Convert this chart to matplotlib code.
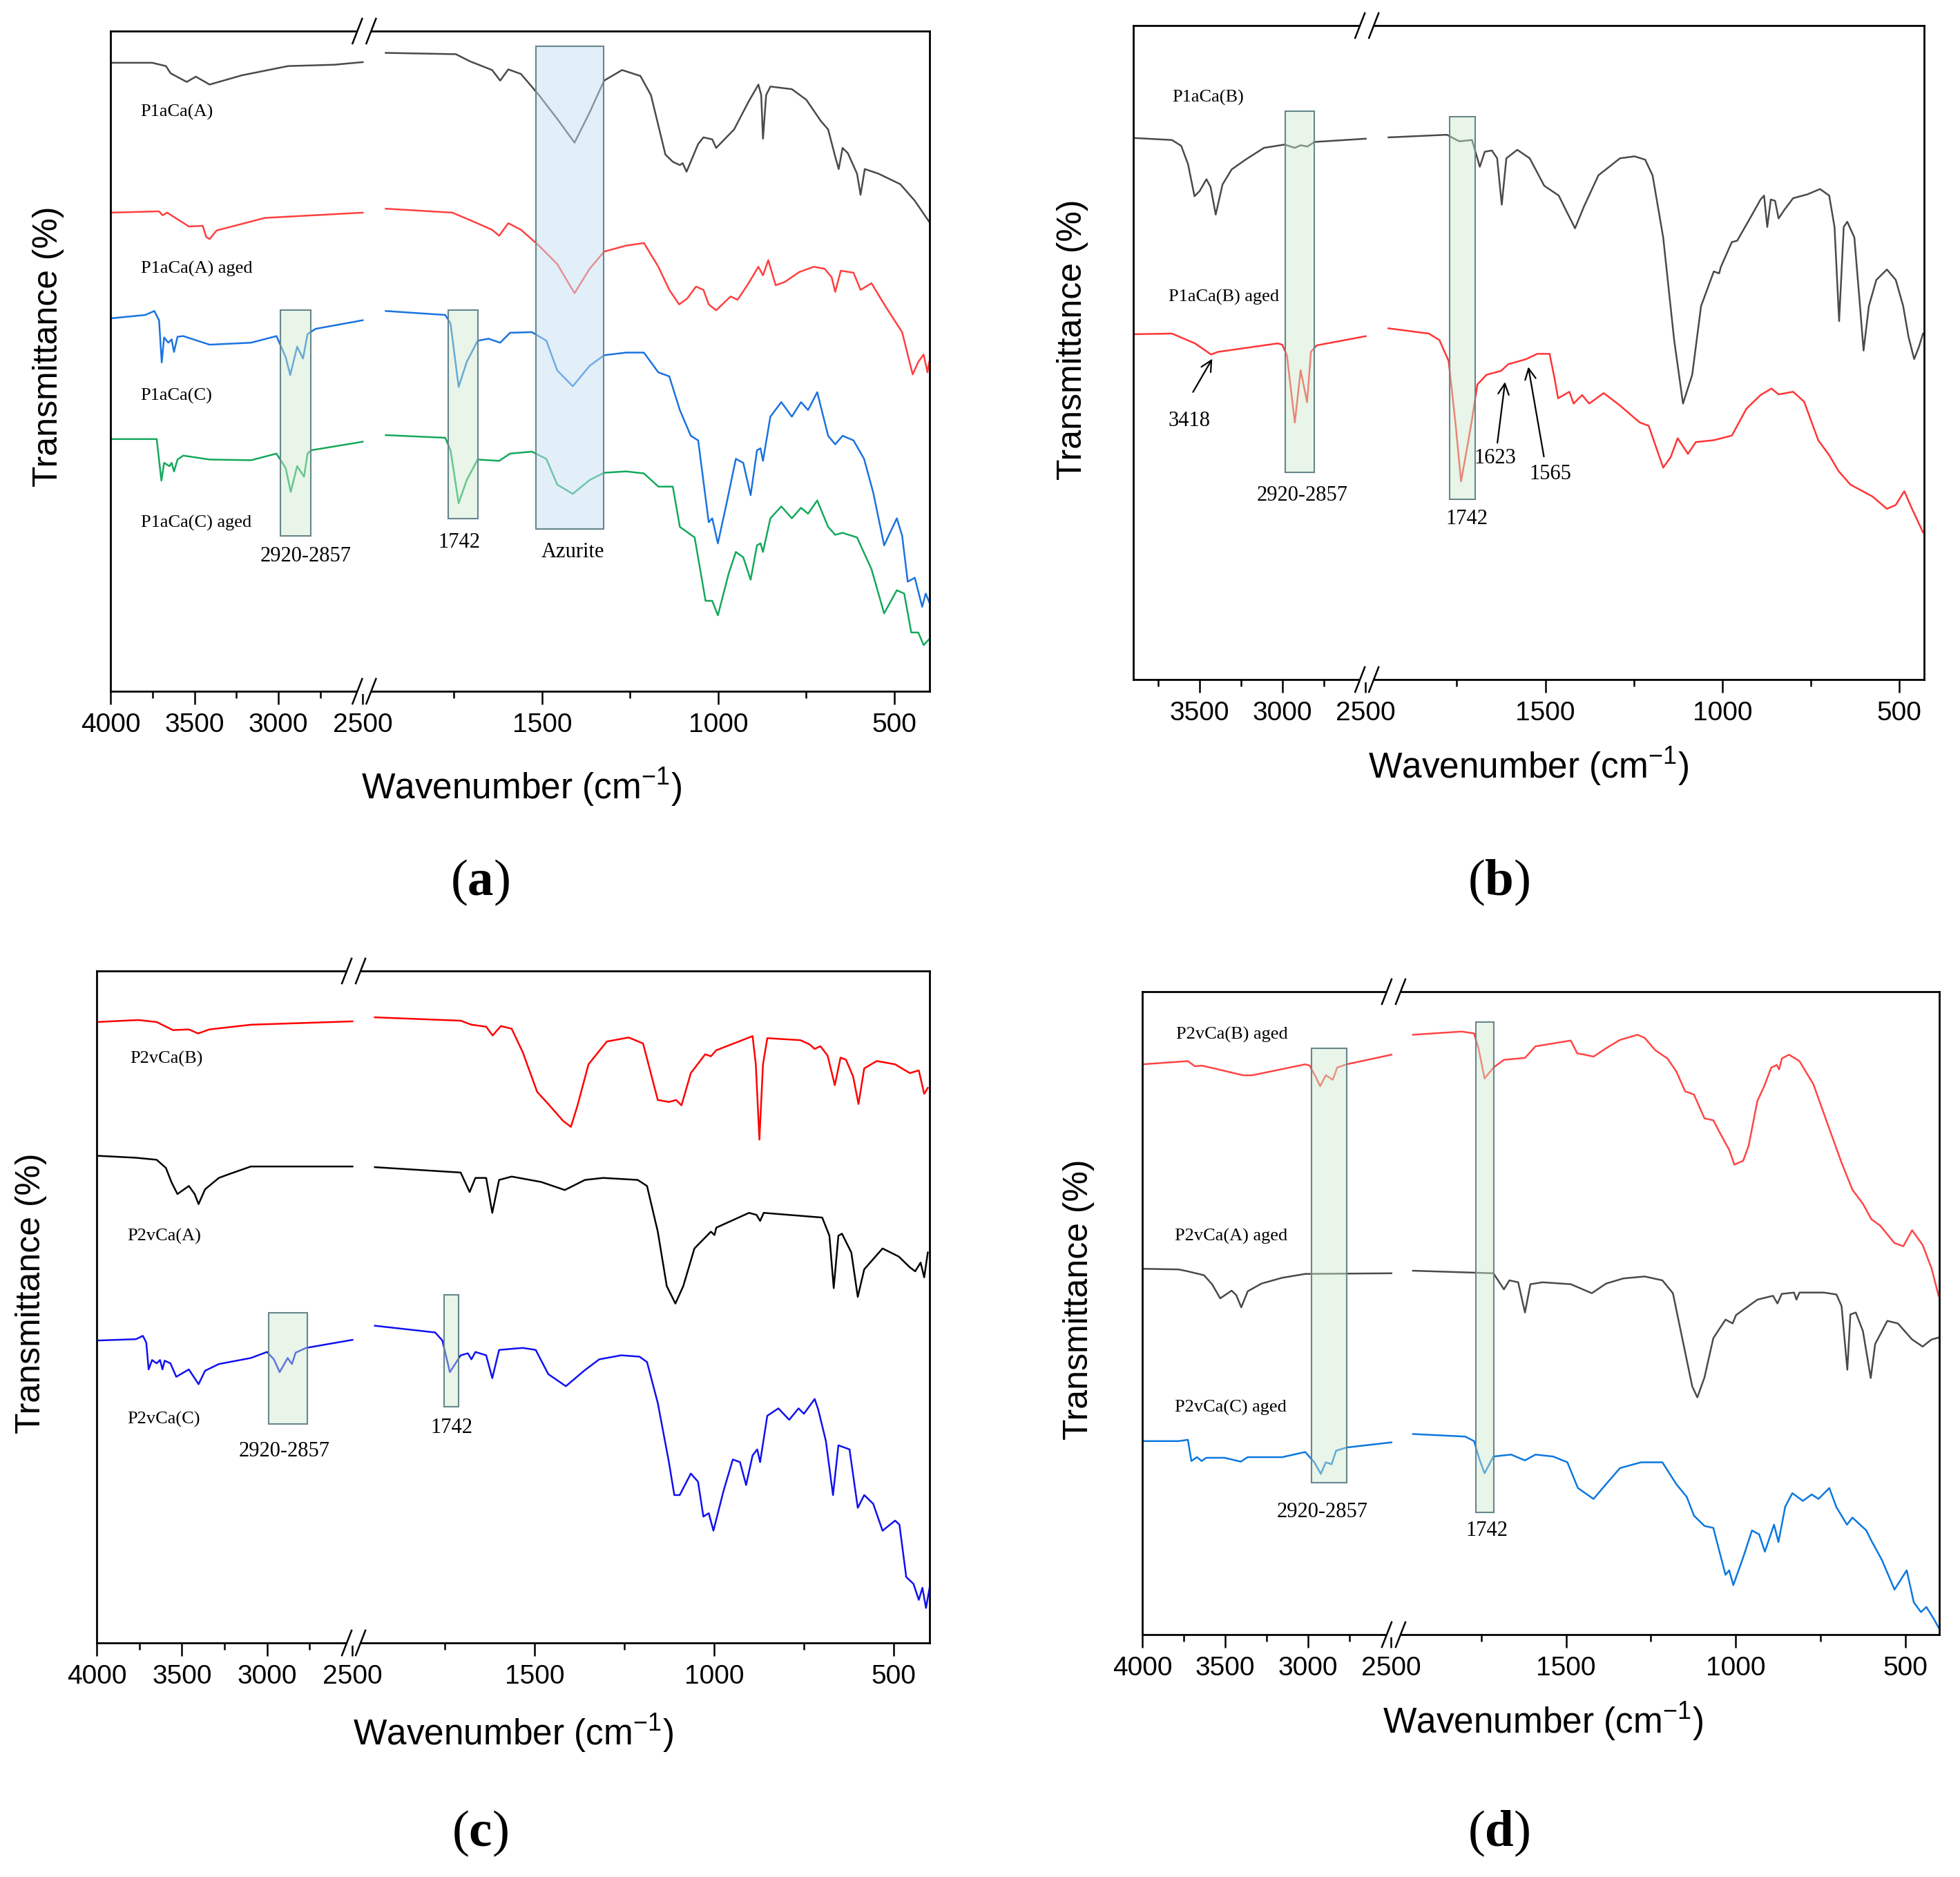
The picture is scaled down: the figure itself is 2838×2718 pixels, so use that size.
import numpy as np
import matplotlib
matplotlib.use("Agg")
import matplotlib.pyplot as plt
from matplotlib.patches import Rectangle

plt.rcParams["font.family"] = "Liberation Sans"
plt.rcParams["mathtext.fontset"] = "custom"
plt.rcParams["mathtext.bf"] = "Liberation Serif:bold"
plt.rcParams["mathtext.default"] = "regular"

W, H = 2838, 2718

# ---------------- data: (wavenumber cm-1, transmittance a.u.) ----------------
# panel (a)
a_p1aca_a = [(3992, 95.2), (3752, 95.2), (3670, 94.7), (3642, 93.6), (3546, 92.3), (3492, 93.1), (3410, 91.9),
             (3218, 93.3), (2943, 94.7), (2670, 94.9), (2457, 95.3),
             (1944, 96.7), (1745, 96.5), (1704, 95.4), (1642, 94.1), (1619, 92.5), (1596, 94.2), (1560, 93.5),
             (1509, 90.3), (1457, 86.7), (1408, 83.1), (1365, 87.7), (1324, 92.5), (1273, 94.1), (1221, 93.2),
             (1191, 90.3), (1150, 81.3), (1129, 80.2), (1109, 79.7), (1101, 80.0), (1090, 78.7), (1057, 82.9),
             (1042, 83.9), (1017, 83.6), (1006, 82.3), (955, 85.1), (914, 89.3), (886, 91.9), (878, 90.3),
             (873, 83.7), (864, 90.3), (852, 91.6), (791, 91.2), (750, 89.6), (709, 86.4), (688, 85.1),
             (668, 81.0), (658, 79.1), (647, 82.3), (632, 81.5), (606, 78.4), (596, 75.2), (584, 79.1),
             (545, 78.4), (483, 76.8), (442, 74.3), (401, 71.1)]
a_p1aca_a_aged = [(3992, 72.5), (3711, 72.7), (3690, 72.1), (3663, 72.5), (3533, 70.4), (3451, 70.5), (3430, 68.8),
                  (3410, 68.5), (3368, 69.8), (3081, 71.7), (2457, 72.5),
                  (1944, 73.1), (1755, 72.5), (1693, 71.1), (1642, 69.9), (1622, 69.0), (1596, 70.9), (1560, 69.9),
                  (1509, 67.5), (1457, 64.7), (1408, 60.3), (1365, 64.0), (1324, 66.6), (1262, 67.5), (1211, 67.9),
                  (1170, 64.3), (1139, 60.8), (1111, 58.6), (1088, 59.5), (1063, 61.3), (1042, 60.8), (1027, 58.6),
                  (1006, 57.7), (965, 59.8), (945, 59.3), (914, 61.8), (886, 64.3), (873, 63.0), (858, 65.3),
                  (837, 61.5), (811, 62.0), (770, 63.5), (729, 64.3), (698, 64.0), (678, 62.7), (668, 60.5),
                  (652, 63.7), (616, 63.4), (596, 60.8), (565, 61.8), (524, 58.2), (478, 54.4), (448, 48.0),
                  (432, 49.9), (417, 51.0), (406, 48.3), (401, 49.9)]
a_p1aca_c = [(3992, 56.5), (3793, 57.0), (3739, 57.6), (3711, 56.2), (3695, 49.8), (3681, 53.6), (3656, 52.8),
             (3636, 53.3), (3622, 51.4), (3601, 53.7), (3567, 53.8), (3410, 52.5), (3163, 52.8), (3012, 53.8),
             (2957, 50.6), (2930, 47.9), (2889, 52.2), (2854, 50.4), (2827, 54.1), (2779, 54.9), (2457, 56.2),
             (1944, 57.6), (1775, 57.0), (1760, 55.7), (1737, 46.1), (1714, 49.9), (1683, 53.1), (1652, 53.4),
             (1619, 52.8), (1591, 54.3), (1529, 54.4), (1488, 53.1), (1457, 48.6), (1413, 46.2), (1365, 49.3),
             (1324, 50.9), (1262, 51.3), (1211, 51.3), (1170, 48.3), (1139, 47.7), (1109, 42.6), (1078, 38.7),
             (1057, 38.0), (1027, 25.6), (1017, 26.2), (1001, 22.4), (975, 28.8), (950, 35.2), (929, 34.6),
             (908, 29.7), (890, 36.5), (880, 36.8), (873, 34.9), (852, 41.6), (821, 43.8), (791, 41.6),
             (765, 43.8), (745, 42.6), (719, 45.3), (688, 38.7), (668, 37.4), (647, 38.7), (616, 38.0),
             (586, 35.2), (560, 30.1), (529, 22.1), (493, 26.2), (478, 23.6), (462, 16.6), (442, 17.2),
             (421, 12.8), (411, 14.8), (401, 13.5)]
a_p1aca_c_aged = [(3992, 38.2), (3725, 38.2), (3697, 31.9), (3681, 34.6), (3649, 34.1), (3636, 34.6), (3622, 33.3),
                  (3601, 35.1), (3567, 35.7), (3410, 35.1), (3163, 35.0), (3012, 36.0), (2957, 33.8), (2927, 30.2),
                  (2889, 34.1), (2848, 32.5), (2827, 36.0), (2807, 36.5), (2457, 37.8),
                  (1944, 38.8), (1775, 38.4), (1760, 36.5), (1737, 28.5), (1714, 32.0), (1683, 35.1), (1622, 34.9),
                  (1591, 36.0), (1529, 36.3), (1488, 35.2), (1457, 31.3), (1413, 29.9), (1365, 32.0), (1324, 33.1),
                  (1262, 33.3), (1211, 33.0), (1170, 31.0), (1129, 31.0), (1109, 24.9), (1067, 23.3), (1036, 13.7),
                  (1017, 13.7), (1001, 11.5), (970, 17.9), (950, 21.1), (929, 20.3), (908, 16.9), (890, 22.1),
                  (880, 22.4), (873, 21.1), (852, 26.2), (821, 28.0), (791, 26.2), (765, 27.8), (745, 26.9),
                  (719, 28.9), (688, 24.9), (668, 23.7), (647, 24.0), (606, 23.3), (565, 18.5), (529, 11.8),
                  (493, 15.3), (472, 14.8), (452, 8.9), (432, 8.9), (417, 7.0), (401, 7.9)]

# panel (b)
b_p1aca_b = [(3889, 82.8), (3667, 82.5), (3611, 81.6), (3570, 78.8), (3531, 73.9), (3500, 74.7), (3459, 76.5),
             (3434, 75.3), (3403, 71.1), (3362, 75.7), (3307, 78.0), (3223, 79.5), (3112, 81.3), (2988, 81.8),
             (2926, 81.3), (2891, 81.7), (2850, 81.5), (2808, 82.2), (2455, 82.7),
             (1943, 82.9), (1778, 83.3), (1743, 82.3), (1707, 82.5), (1685, 78.4), (1671, 80.7), (1651, 80.9),
             (1636, 79.7), (1623, 72.6), (1610, 79.7), (1579, 81.0), (1544, 79.7), (1503, 75.5), (1462, 74.0),
             (1442, 71.8), (1416, 69.0), (1391, 72.3), (1350, 77.1), (1289, 79.7), (1248, 80.0), (1218, 79.5),
             (1197, 77.1), (1167, 67.6), (1136, 51.9), (1111, 42.2), (1085, 46.6), (1060, 57.1), (1024, 62.4),
             (1009, 62.1), (1004, 63.1), (973, 66.9), (958, 67.1), (922, 70.5), (892, 73.4), (882, 74.0),
             (873, 69.2), (863, 73.4), (851, 73.2), (841, 70.5), (825, 71.8), (800, 73.6), (759, 74.2),
             (724, 75.0), (698, 74.0), (683, 69.2), (670, 54.8), (657, 69.2), (647, 70.0), (627, 67.6),
             (611, 57.1), (601, 50.3), (586, 57.1), (565, 61.1), (535, 62.7), (510, 61.1), (489, 57.1),
             (474, 52.4), (458, 49.0), (445, 50.8), (433, 52.9)]
b_p1aca_b_aged = [(3896, 52.8), (3667, 52.9), (3528, 51.4), (3431, 49.7), (3390, 50.1), (3029, 51.4), (3002, 51.2),
                  (2974, 49.6), (2926, 39.3), (2891, 47.3), (2852, 42.4), (2829, 50.1), (2794, 51.1), (2455, 52.5),
                  (1943, 53.7), (1829, 52.9), (1799, 51.9), (1773, 48.7), (1753, 38.8), (1738, 30.3), (1722, 35.1),
                  (1707, 39.8), (1692, 45.1), (1666, 46.6), (1625, 47.2), (1605, 48.2), (1554, 49.0), (1523, 49.8),
                  (1488, 49.8), (1474, 46.1), (1464, 43.0), (1432, 44.0), (1420, 42.2), (1396, 43.5), (1376, 42.2),
                  (1335, 43.8), (1289, 41.9), (1233, 39.3), (1208, 38.8), (1167, 32.4), (1146, 34.0), (1126, 36.9),
                  (1097, 34.5), (1075, 36.3), (1024, 36.6), (973, 37.3), (932, 41.4), (892, 43.5), (861, 44.5),
                  (841, 43.6), (800, 44.0), (769, 42.5), (729, 36.6), (698, 34.3), (672, 31.9), (638, 29.8),
                  (576, 28.0), (535, 26.1), (510, 26.7), (486, 28.8), (464, 26.1), (433, 22.5)]

# panel (c)
c_p2vca_b = [(3999, 92.4), (3756, 92.7), (3648, 92.4), (3553, 91.2), (3459, 91.3), (3405, 90.7), (3338, 91.3),
             (3095, 92.0), (2460, 92.5),
             (1945, 93.1), (1706, 92.6), (1676, 92.0), (1635, 91.7), (1617, 90.4), (1594, 91.8), (1564, 91.4),
             (1533, 87.9), (1493, 82.0), (1462, 80.2), (1421, 77.7), (1399, 76.8), (1381, 79.9), (1350, 86.1),
             (1299, 89.5), (1238, 90.1), (1198, 89.2), (1157, 80.8), (1126, 80.5), (1106, 80.8), (1091, 80.0),
             (1065, 84.8), (1025, 87.6), (1009, 87.3), (994, 88.2), (893, 90.3), (884, 86.1), (874, 74.9),
             (864, 86.1), (852, 90.0), (760, 89.7), (735, 89.1), (720, 88.4), (704, 88.8), (684, 87.4),
             (664, 83.0), (648, 87.1), (633, 86.8), (613, 84.3), (598, 80.2), (582, 85.5), (547, 86.6),
             (496, 86.1), (455, 84.8), (430, 85.2), (415, 81.7), (405, 82.6)]
c_p2vca_a = [(3999, 72.5), (3769, 72.2), (3648, 71.9), (3594, 70.7), (3560, 68.5), (3526, 66.8), (3459, 68.0),
             (3425, 66.8), (3402, 65.3), (3364, 67.5), (3283, 69.2), (3230, 69.7), (3095, 70.9), (2460, 70.9),
             (1945, 70.8), (1706, 70.0), (1681, 67.1), (1665, 69.2), (1635, 69.2), (1618, 64.0), (1599, 68.9),
             (1564, 69.4), (1482, 68.6), (1416, 67.4), (1360, 68.9), (1309, 69.2), (1213, 68.9), (1187, 68.0),
             (1157, 61.2), (1132, 53.1), (1108, 50.5), (1086, 53.1), (1055, 58.7), (1009, 61.2), (999, 60.7),
             (994, 61.8), (903, 64.0), (882, 63.7), (872, 62.8), (862, 64.0), (699, 63.3), (679, 60.6),
             (667, 52.8), (654, 60.6), (644, 60.9), (618, 58.1), (600, 51.5), (582, 55.6), (531, 58.7),
             (486, 57.5), (455, 55.9), (440, 55.3), (425, 56.6), (415, 54.4), (405, 58.1)]
c_p2vca_c = [(3999, 45.0), (3769, 45.2), (3729, 45.7), (3709, 44.7), (3695, 40.7), (3675, 42.1), (3648, 41.6),
             (3628, 42.1), (3614, 40.7), (3601, 42.0), (3567, 41.6), (3533, 39.6), (3459, 40.7), (3402, 38.5),
             (3364, 40.5), (3283, 41.5), (3095, 42.4), (3000, 43.3), (2960, 42.2), (2926, 40.3), (2879, 42.4),
             (2854, 41.5), (2832, 43.2), (2771, 43.9), (2460, 45.1),
             (1945, 47.2), (1777, 46.2), (1757, 45.0), (1736, 40.3), (1706, 42.8), (1686, 43.1), (1676, 42.2),
             (1665, 43.3), (1635, 42.8), (1618, 39.4), (1599, 43.6), (1533, 43.9), (1497, 43.6), (1462, 40.0),
             (1413, 38.2), (1360, 40.6), (1320, 42.2), (1259, 42.8), (1208, 42.6), (1187, 41.8), (1157, 35.7),
             (1126, 26.9), (1111, 22.0), (1096, 22.0), (1065, 25.2), (1045, 24.0), (1030, 18.8), (1015, 19.3),
             (1002, 16.7), (974, 22.6), (948, 27.3), (928, 26.9), (911, 23.5), (893, 27.9), (880, 28.8),
             (872, 26.9), (852, 33.8), (821, 34.9), (791, 33.2), (765, 34.9), (750, 34.1), (720, 36.3),
             (710, 34.7), (689, 30.1), (669, 22.0), (654, 29.4), (623, 28.8), (600, 20.1), (582, 22.0),
             (557, 20.7), (531, 16.7), (496, 18.2), (484, 17.6), (465, 9.8), (445, 8.8), (430, 6.4),
             (420, 8.2), (410, 5.2), (400, 8.2)]

# panel (d)
d_p2vca_b_aged = [(4000, 88.7), (3725, 89.2), (3683, 88.4), (3642, 88.5), (3572, 88.1), (3475, 87.5), (3392, 87.0),
                  (3337, 87.0), (3017, 88.7), (2990, 88.5), (2955, 86.8), (2927, 85.3), (2893, 87.0), (2851, 86.3),
                  (2824, 88.2), (2768, 88.7), (2456, 90.2),
                  (1951, 93.3), (1807, 93.8), (1771, 93.5), (1758, 91.2), (1740, 86.5), (1714, 88.2), (1683, 89.4),
                  (1621, 89.7), (1590, 91.5), (1486, 92.4), (1467, 90.4), (1445, 90.2), (1419, 89.9), (1382, 91.2),
                  (1341, 92.5), (1289, 93.3), (1268, 92.8), (1237, 90.9), (1201, 89.6), (1175, 87.6), (1149, 84.5),
                  (1123, 84.0), (1092, 80.3), (1066, 80.0), (1040, 77.4), (1019, 75.4), (1004, 73.1), (978, 73.7),
                  (962, 76.0), (936, 83.0), (916, 85.3), (895, 88.2), (879, 88.6), (872, 87.9), (864, 89.6),
                  (843, 90.2), (812, 89.2), (771, 85.6), (729, 79.4), (688, 73.4), (656, 69.2), (625, 67.0),
                  (600, 64.6), (574, 63.6), (532, 60.9), (506, 60.4), (480, 62.9), (449, 60.6), (423, 57.0),
                  (402, 52.7)]
d_p2vca_a_aged = [(3995, 56.9), (3780, 56.8), (3725, 56.5), (3628, 55.9), (3579, 54.5), (3530, 52.3), (3461, 53.5),
                  (3433, 52.8), (3403, 50.9), (3364, 53.4), (3281, 54.6), (3156, 55.5), (3017, 56.1), (2456, 56.2),
                  (1951, 56.6), (1714, 56.2), (1683, 53.7), (1667, 55.1), (1641, 54.8), (1621, 50.1), (1605, 54.5),
                  (1569, 54.8), (1486, 54.5), (1424, 53.1), (1382, 54.6), (1331, 55.4), (1268, 55.7), (1216, 55.1),
                  (1185, 53.1), (1154, 45.2), (1128, 38.6), (1113, 36.9), (1092, 40.0), (1066, 46.1), (1030, 49.0),
                  (1009, 48.4), (999, 49.7), (936, 52.1), (890, 52.7), (877, 51.5), (864, 53.0), (828, 53.2),
                  (821, 52.1), (812, 53.2), (740, 53.2), (703, 52.9), (688, 51.1), (671, 41.2), (662, 49.8),
                  (646, 50.1), (625, 47.2), (602, 39.9), (589, 45.2), (553, 48.8), (522, 48.4), (480, 45.9),
                  (449, 44.8), (423, 45.9), (402, 46.2)]
d_p2vca_c_aged = [(4000, 30.1), (3780, 30.1), (3725, 30.3), (3704, 27.0), (3670, 27.6), (3642, 27.0), (3614, 27.5),
                  (3579, 27.5), (3503, 27.5), (3406, 26.9), (3364, 27.6), (3156, 27.6), (3017, 28.4), (2962, 26.8),
                  (2923, 25.0), (2893, 26.8), (2858, 26.5), (2831, 28.6), (2768, 29.1), (2456, 29.9),
                  (1951, 31.2), (1797, 30.8), (1771, 30.1), (1756, 27.4), (1740, 25.1), (1714, 27.7), (1662, 28.0),
                  (1621, 27.1), (1590, 28.0), (1538, 27.7), (1496, 26.8), (1465, 22.8), (1419, 21.1), (1382, 23.4),
                  (1341, 25.9), (1279, 26.8), (1216, 26.8), (1175, 23.4), (1144, 21.4), (1123, 18.5), (1092, 16.9),
                  (1066, 16.6), (1030, 9.3), (1019, 10.0), (1007, 7.7), (978, 12.0), (952, 16.2), (931, 15.6),
                  (914, 12.9), (887, 17.1), (874, 14.4), (854, 19.9), (833, 22.0), (802, 20.8), (776, 21.8),
                  (756, 21.1), (724, 22.8), (703, 19.8), (672, 17.1), (656, 18.2), (615, 16.2), (600, 14.6),
                  (569, 11.6), (532, 7.0), (496, 10.0), (475, 5.0), (454, 3.5), (438, 4.3), (418, 2.6), (402, 1.1)]

# curve labels, highlight boxes (w_hi, w_lo, T_lo, T_hi), peak labels
a_names = ["P1aCa(A)", "P1aCa(A) aged", "P1aCa(C)", "P1aCa(C) aged"]
a_name_pos = [(3821, 87.7), (3821, 64.0), (3821, 44.7), (3821, 25.5)]
b_names = ["P1aCa(B)", "P1aCa(B) aged"]
b_name_pos = [(3667, 89.0), (3688, 58.4)]
c_names = ["P2vCa(B)", "P2vCa(A)", "P2vCa(C)"]
c_name_pos = [(3803, 86.9), (3819, 60.5), (3819, 33.3)]
d_names = ["P2vCa(B) aged", "P2vCa(A) aged", "P2vCa(C) aged"]
d_name_pos = [(3797, 93.3), (3805, 61.9), (3805, 35.3)]

a_boxes = [(2987, 2806, 23.5, 57.7, "g"), (1767, 1683, 26.1, 57.7, "g"), (1517, 1326, 24.6, 97.7, "b")]
a_box_text = [("2920-2857", 2840, 20.5), ("1742", 1736, 22.5), ("Azurite", 1413, 21.1)]
b_boxes = [(2983, 2810, 31.7, 86.9, "g"), (1770, 1699, 27.6, 86.1, "g")]
b_box_text = [("2920-2857", 2883, 28.1), ("1742", 1722, 24.6)]
c_boxes = [(2992, 2765, 32.6, 49.1, "g"), (1752, 1711, 35.2, 51.8, "g")]
c_box_text = [("2920-2857", 2899, 28.5), ("1742", 1731, 32.0)]
d_boxes = [(2979, 2768, 23.6, 91.2, "g"), (1766, 1712, 19.0, 95.3, "g")]
d_box_text = [("2920-2857", 2913, 19.1), ("1742", 1733, 16.2)]

# arrows in (b): text, text pos, arrow tail, arrow head
b_arrows = [("3418", (3563, 39.5), (3546, 43.7), (3418, 49.3)),
            ("1623", (1641, 33.8), (1636, 35.9), (1613, 45.8)),
            ("1565", (1486, 31.4), (1503, 33.8), (1549, 48.1))]

major_ticks = [4000, 3500, 3000, 2500, 1500, 1000, 500]
minor_ticks = [3750, 3250, 2750, 1750, 1250, 750]


def make_scale(r, gap):
    wp = [-1000, 2000, 2500, 6000]
    up = [-1000, 2000, 2000 + gap, 2000 + gap + 3500 * r]
    return (lambda w: np.interp(w, wp, up)), (lambda u: np.interp(u, up, wp))


fig = plt.figure(figsize=(W / 100, H / 100), dpi=100)


def panel(rect_px, xlim, r, gap, curves, names, name_pos, boxes, box_text, letter, ylab_px, xlab_px, let_px):
    l, t, rgt, b = rect_px
    ax = fig.add_axes([l / W, 1 - b / H, (rgt - l) / W, (b - t) / H])
    ax.set_xscale("function", functions=make_scale(r, gap))
    for data, col in curves:
        arr = np.array(data, dtype=float)
        for m in (arr[:, 0] > 2200, arr[:, 0] < 2200):
            ax.plot(arr[m, 0], arr[m, 1], color=col, lw=1.8, zorder=2)
    ax.set_xlim(*xlim)
    ax.set_ylim(0, 100)
    for w1, w2, t1, t2, kind in boxes:
        fc = (0.80, 0.92, 0.80, 0.45) if kind == "g" else (0.78, 0.88, 0.95, 0.5)
        ax.add_patch(Rectangle((w2, t1), w1 - w2, t2 - t1, facecolor=fc,
                               edgecolor="#65868c", lw=1.5, zorder=3))
    for txt, (x, y) in zip(names, name_pos):
        ax.text(x, y, txt, family="Liberation Serif", fontsize=19, ha="left", va="center")
    for txt, x, y in box_text:
        ax.text(x, y, txt, family="Liberation Serif", fontsize=22, ha="center", va="center")
    lo, hi = min(xlim), max(xlim)
    ax.set_xticks([v for v in major_ticks if lo <= v <= hi])
    ax.set_xticklabels([str(v) for v in major_ticks if lo <= v <= hi])
    ax.set_xticks([v for v in minor_ticks if lo <= v <= hi], minor=True)
    ax.set_yticks([])
    ax.tick_params(axis="x", which="major", direction="out", length=13.5, width=1.8, labelsize=28, pad=9)
    ax.tick_params(axis="x", which="minor", direction="out", length=7, width=1.8)
    for s in ax.spines.values():
        s.set_linewidth(2.0)
    # axis break marks
    fb = ax.transAxes.inverted().transform(ax.transData.transform((2250, 50)))[0]
    wpx, hpx = rgt - l, b - t
    dx, dy, sep = 7 / wpx, 18 / hpx, 10 / wpx
    for yy in (0, 1):
        ax.plot([fb - sep, fb + sep], [yy, yy], color="white", lw=5, transform=ax.transAxes,
                clip_on=False, zorder=6, solid_capstyle="butt")
        for s in (-sep, sep):
            ax.plot([fb + s - dx, fb + s + dx], [yy - dy, yy + dy], color="black", lw=1.8,
                    transform=ax.transAxes, clip_on=False, zorder=7)
    fig.text(ylab_px[0] / W, 1 - ylab_px[1] / H, "Transmittance (%)", rotation=90,
             fontsize=36, ha="center", va="center")
    fig.text(xlab_px[0] / W, 1 - xlab_px[1] / H, r"Wavenumber (cm$^{-1}$)",
             fontsize=37, ha="center", va="center")
    fig.text(let_px[0] / W, 1 - let_px[1] / H, "($\\mathbf{" + letter + "}$)",
             family="Liberation Serif", fontsize=54, ha="center", va="center")
    return ax


panel((160, 45, 1346, 1001), (4000, 400), 0.4769, 10,
      [(a_p1aca_a, "#4a4a4a"), (a_p1aca_a_aged, "#ff4040"), (a_p1aca_c, "#1a73e0"), (a_p1aca_c_aged, "#14a85c")],
      a_names, a_name_pos, a_boxes, a_box_text, "a", (70, 502), (755, 1140), (695, 1278))

axb = panel((1641, 37, 2786, 984), (3900, 430), 0.4684, 8,
            [(b_p1aca_b, "#4a4a4a"), (b_p1aca_b_aged, "#ff3535")],
            b_names, b_name_pos, b_boxes, b_box_text, "b", (1553, 492), (2213, 1110), (2170, 1278))
for txt, tp, tail, head in b_arrows:
    axb.text(tp[0], tp[1], txt, family="Liberation Serif", fontsize=22, ha="center", va="center")
    axb.annotate("", xy=head, xytext=tail,
                 arrowprops=dict(arrowstyle="->", color="black", lw=1.6, mutation_scale=28))

panel((140, 1406, 1346, 2379), (4000, 400), 0.4745, 8,
      [(c_p2vca_b, "#ff0000"), (c_p2vca_a, "#000000"), (c_p2vca_c, "#1010f0")],
      c_names, c_name_pos, c_boxes, c_box_text, "c", (45, 1873), (743, 2510), (695, 2655))

panel((1654, 1436, 2808, 2367), (4000, 400), 0.4885, 16,
      [(d_p2vca_b_aged, "#ff4545"), (d_p2vca_a_aged, "#4a4a4a"), (d_p2vca_c_aged, "#0a78e0")],
      d_names, d_name_pos, d_boxes, d_box_text, "d", (1562, 1882), (2234, 2493), (2170, 2655))

fig.savefig("out.png", dpi=100)
